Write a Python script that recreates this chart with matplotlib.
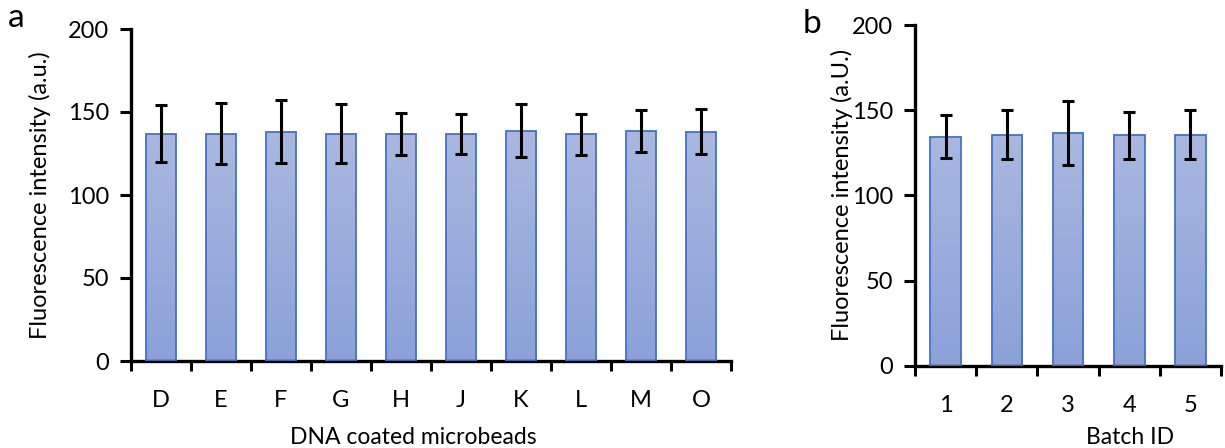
import numpy as np
import matplotlib
matplotlib.use("Agg")
import matplotlib.pyplot as plt
from matplotlib.colors import LinearSegmentedColormap

plt.rcParams['font.family'] = ['Lato', 'DejaVu Sans']

# Data
cats_a = ["D", "E", "F", "G", "H", "J", "K", "L", "M", "O"]
vals_a = [137, 137, 138.2, 137, 136.5, 136.5, 138.7, 136.5, 138.7, 138.1]
errs_a = [17, 18.5, 19, 18, 12.6, 12, 16, 12.3, 12.7, 13.5]

cats_b = ["1", "2", "3", "4", "5"]
vals_b = [134.5, 135.7, 136.5, 135.2, 135.7]
errs_b = [12.7, 14.4, 18.8, 14.0, 14.5]

ylabel_a = "Fluorescence intensity (a.u.)"
ylabel_b = "Fluorescence intensity (a.U.)"
xlabel_a = "DNA coated microbeads"
xlabel_b = "Batch ID"

W, H = 1225, 448
fig = plt.figure(figsize=(W / 100, H / 100), dpi=100)

cmap = LinearSegmentedColormap.from_list("g", ["#8ba1d8", "#aab8e0"])
grad = np.linspace(0, 1, 256).reshape(-1, 1)


def panel(rect, cats, vals, errs, xlabel, xlabel_xy, ylabel, ylabel_x, letter, letter_xy):
    ax = fig.add_axes(rect)
    x = np.arange(len(cats))
    bars = ax.bar(x, vals, width=0.5, color="none", edgecolor="#4472C4",
                  linewidth=1.3, zorder=3)
    for b in bars:
        x0, y0 = b.get_x(), b.get_y()
        w, h = b.get_width(), b.get_height()
        im = ax.imshow(grad, extent=[x0, x0 + w, y0, y0 + h], origin="lower",
                       cmap=cmap, aspect="auto", zorder=2)
        im.set_clip_path(b)
    ax.errorbar(x, vals, yerr=errs, fmt="none", ecolor="black", elinewidth=2.2,
                capsize=4.5, capthick=2.2, zorder=4)
    ax.set_xlim(-0.5, len(cats) - 0.5)
    ax.set_ylim(0, 200)
    ax.set_yticks([0, 50, 100, 150, 200])
    ax.set_xticks(np.arange(len(cats) + 1) - 0.5)
    ax.set_xticklabels([])
    ax.set_xticks(x, minor=True)
    ax.set_xticklabels(cats, minor=True)
    ax.tick_params(axis="x", which="minor", length=0, pad=21, labelsize=17)
    ax.tick_params(axis="x", which="major", length=7, width=2.2, direction="out")
    ax.tick_params(axis="y", length=8, width=2.2, direction="out", labelsize=17, pad=8)
    for s in ["top", "right"]:
        ax.spines[s].set_visible(False)
    for s in ["left", "bottom"]:
        ax.spines[s].set_linewidth(2.4)
    ax.set_xlabel(xlabel, fontsize=16.5, va="center")
    ax.xaxis.set_label_coords(*xlabel_xy)
    ax.set_ylabel(ylabel, fontsize=17, va="center")
    ax.yaxis.set_label_coords(ylabel_x, 0.5)
    fig.text(letter_xy[0], letter_xy[1], letter, fontsize=24, ha="left", va="center")
    return ax


ax1 = panel([131 / W, 1 - 361 / H, 600 / W, 332 / H], cats_a, vals_a, errs_a,
            xlabel_a, ((413 - 131) / 600, -(437 - 361) / 332),
            ylabel_a, (40 - 131) / 600, "a", (8 / W, 1 - 18 / H))
ax2 = panel([915 / W, 1 - 365.7 / H, 306 / W, 340.7 / H], cats_b, vals_b, errs_b,
            xlabel_b, ((1130 - 915) / 306, -(437 - 365.7) / 340.7),
            ylabel_b, (842 - 915) / 306, "b", (803 / W, 1 - 24 / H))

fig.savefig("out.png", dpi=100)
